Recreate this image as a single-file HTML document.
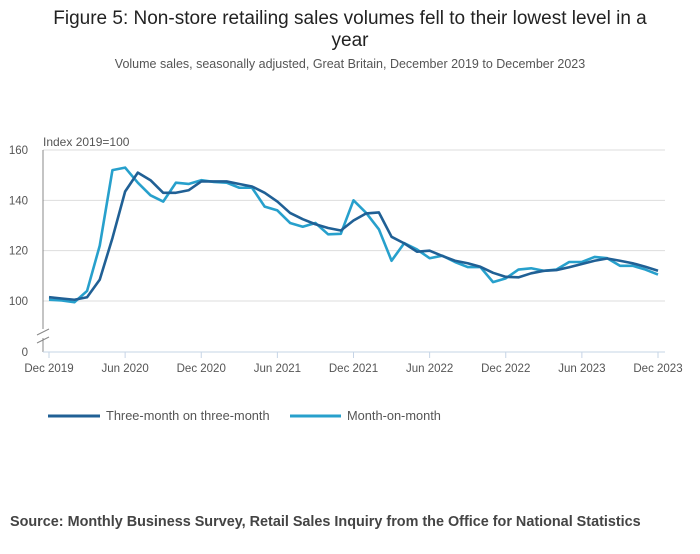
<!DOCTYPE html>
<html><head><meta charset="utf-8"><style>
body{margin:0;background:#fff;font-family:"Liberation Sans",sans-serif}
#c{position:relative;width:700px;height:549px}
</style></head><body>
<div id="c">
<svg id="svg" width="700" height="549" xmlns="http://www.w3.org/2000/svg" font-family="Liberation Sans, sans-serif">
<text x="350" y="24" text-anchor="middle" font-size="19" fill="#222">Figure 5: Non-store retailing sales volumes fell to their lowest level in a</text>
<text x="350" y="46" text-anchor="middle" font-size="19" fill="#222">year</text>
<text x="350" y="68" text-anchor="middle" font-size="12.5" fill="#555">Volume sales, seasonally adjusted, Great Britain, December 2019 to December 2023</text>
<text x="43" y="146" font-size="12" fill="#555">Index 2019=100</text>
<g id="grid"></g><g id="axes"></g><g id="series"></g>
<g>
<line x1="48" y1="416" x2="100" y2="416" stroke="#206095" stroke-width="3"/>
<text x="106" y="420" font-size="12.8" fill="#555">Three-month on three-month</text>
<line x1="290" y1="416" x2="341" y2="416" stroke="#27a0cc" stroke-width="3"/>
<text x="347" y="420" font-size="12.8" fill="#555">Month-on-month</text>
</g>
<text x="10" y="526" font-size="14.4" font-weight="bold" fill="#444">Source: Monthly Business Survey, Retail Sales Inquiry from the Office for National Statistics</text>
</svg>
</div>
<script>
const xLabels=["Dec 2019","Jun 2020","Dec 2020","Jun 2021","Dec 2021","Jun 2022","Dec 2022","Jun 2023","Dec 2023"];
const yTicks=[100,120,140,160];
const threeMonth=[101.5,101,100.5,101.5,108.5,125,143.5,151,148,143,143,144,147.5,147.5,147.5,146.5,145.5,143,139.5,135,132.5,130.5,129,128,132,134.8,135.2,125.5,122.9,119.6,120,117.9,116,115,113.6,111.2,109.6,109.4,111,112,112.3,113.4,114.7,116,116.9,116,115,113.6,112];
const monthOnMonth=[100.5,100.2,99.5,104,122,152,153,147,142,139.5,147,146.5,148,147.3,147,145,145,137.5,136,131,129.5,131,126.5,126.7,140,135,128.5,116,123,120.5,117,118,115.5,113.5,113.5,107.5,109,112.5,113,112,112.5,115.5,115.5,117.5,117,114,114,112.5,110.5];
const NS="http://www.w3.org/2000/svg";
const x0=49,x1=658;
const X=i=>x0+(x1-x0)*i/48;
const Y=v=>301-(v-100)*(301-150)/60;
function mk(t,a,p){const e=document.createElementNS(NS,t);for(const k in a)e.setAttribute(k,a[k]);p.appendChild(e);return e;}
const grid=document.getElementById('grid'),axes=document.getElementById('axes'),ser=document.getElementById('series');
yTicks.forEach(v=>{
 const l=mk('line',{x1:43,x2:665,y1:Y(v),y2:Y(v),stroke:'#ddd','stroke-width':1},grid);
 
 
 const t=mk('text',{x:28,y:Y(v)+4,'font-size':11.5,fill:'#555','text-anchor':'end'},axes);t.textContent=v;
 
 
});
const t0=mk('text',{x:28,y:356,'font-size':11.5,fill:'#555','text-anchor':'end'},axes);t0.textContent='0';


mk('path',{d:'M43,150V329M43,338V352',stroke:'#888','stroke-width':1,fill:'none'},axes);
mk('path',{d:'M37,335L49,329M37,343L49,337',stroke:'#888','stroke-width':1},axes);
mk('line',{x1:43,x2:665,y1:352,y2:352,stroke:'#c6d4e6','stroke-width':1},axes);
xLabels.forEach((s,k)=>{
 const x=X(k*6);
 mk('line',{x1:x,x2:x,y1:352,y2:358,stroke:'#c6d4e6'},axes);
 const t=mk('text',{x:x,y:372,'font-size':11.5,fill:'#555','text-anchor':'middle'},axes);t.textContent=s;
 
 
});
function line(arr,c,name){
 const p=mk('polyline',{points:arr.map((v,i)=>X(i)+','+Y(v)).join(' '),fill:'none',stroke:c,'stroke-width':2.6,'stroke-linejoin':'round'},ser);
 
 
}
line(monthOnMonth,'#27a0cc','series-month-on-month');
line(threeMonth,'#206095','series-three-month');
</script>
</body></html>
